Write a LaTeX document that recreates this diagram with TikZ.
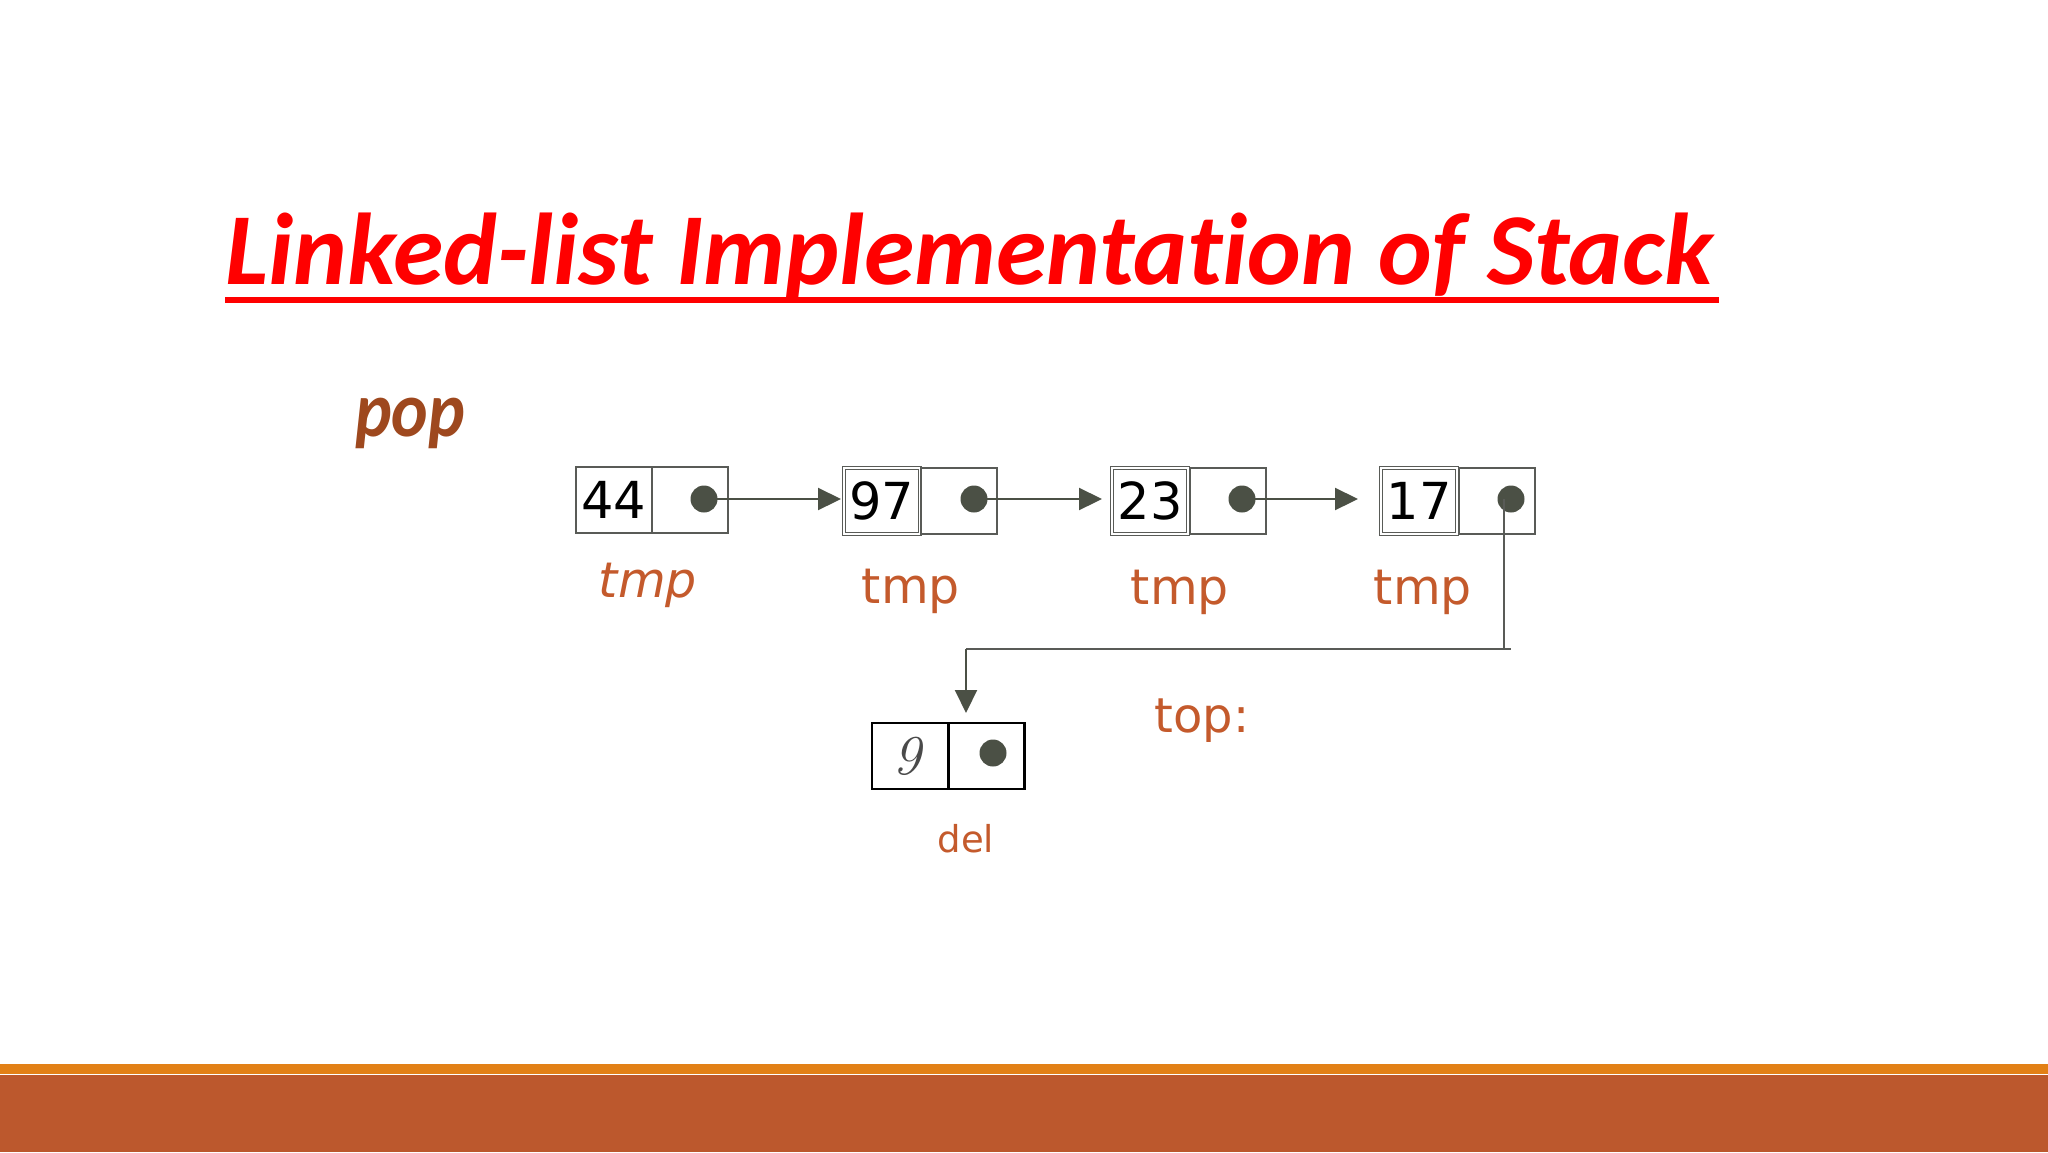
\documentclass[tikz,border=0pt]{standalone}
\usepackage{fontspec}
\usetikzlibrary{arrows.meta}
\newfontfamily\carlito{Carlito}[Ligatures={NoCommon}]
\newfontfamily\dejavu{DejaVu Sans}
\newfontfamily\lmos{Latin Modern Roman}[Numbers=OldStyle]
\definecolor{titlered}{HTML}{FF0000}
\definecolor{popbrown}{HTML}{9E481E}
\definecolor{labelrust}{HTML}{C45A2C}
\definecolor{barorange}{HTML}{E28016}
\definecolor{barrust}{HTML}{BC582D}
\definecolor{boxgray}{HTML}{595B57}
\definecolor{dotgray}{HTML}{4B5045}
\definecolor{ninegray}{HTML}{4A4A4A}
\tikzset{
  cell/.style={draw=boxgray, line width=2.5pt, minimum width=76pt, minimum height=66pt, inner sep=0pt, outer sep=0pt, font=\dejavu\fontsize{51}{55}\selectfont, text=black},
  cellb/.style={cell, line width=1.3pt, double=white, double distance=1.1pt},
  delcell/.style={cell, draw=black, line width=2.5pt},
  ptrdot/.style={circle, fill=dotgray, minimum size=27pt, inner sep=0pt, outer sep=0pt},
  link/.style={draw=dotgray, line width=2.2pt, -{Triangle[length=23pt,width=22pt]}},
  wire/.style={draw=boxgray, line width=2pt},
  tmplabel/.style={anchor=base, text=labelrust, font=\dejavu\fontsize{49}{55}\selectfont, inner sep=0pt},
}
\begin{document}
\begin{tikzpicture}[x=1pt,y=-1pt]
\useasboundingbox (0,0) rectangle (2048,1152);
\fill[white] (0,0) rectangle (2048,1152);
% bottom bars
\fill[barorange] (0,1064) rectangle (2048,1074);
\fill[barrust] (0,1075) rectangle (2048,1152);
% title
\node[anchor=base west, inner sep=0pt, text=titlered, font=\carlito\bfseries\itshape\fontsize{102}{110}\selectfont] (title) at (225,284) {Linked-list Implementation of Stack};
\draw[titlered, line width=6pt] (225,299.5) -- (1719,299.5);
% pop
\node[anchor=base west, inner sep=0pt, text=popbrown, xscale=0.89, font=\carlito\bfseries\itshape\fontsize{78}{90}\selectfont] (pop) at (355,436) {pop};
% list nodes
\node[cell]  (d1) at (614,500) {44};
\node[cell]  (p1) at (690,500) {};
\node[cellb] (d2) at (882,501) {97};
\node[cell]  (p2) at (959,501) {};
\node[cellb] (d3) at (1150,501) {23};
\node[cell]  (p3) at (1228,501) {};
\node[cellb] (d4) at (1419,501) {17};
\node[cell]  (p4) at (1497,501) {};
\node[ptrdot] (c1) at (704,499) {};
\node[ptrdot] (c2) at (974,499) {};
\node[ptrdot] (c3) at (1242,499) {};
\node[ptrdot] (c4) at (1511,499) {};
% links
\draw[link, shorten >=3pt] (c1.center) -- (c1.center -| d2.west);
\draw[link, shorten >=10pt] (c2.center) -- (c2.center -| d3.west);
\draw[link, shorten >=23pt] (c3.center) -- (c3.center -| d4.west);
% tmp labels
\node[tmplabel, font=\dejavu\itshape\fontsize{49}{55}\selectfont] (t1) at (648,597) {tmp};
\node[tmplabel] (t2) at (911,603) {tmp};
\node[tmplabel] (t3) at (1180,604) {tmp};
\node[tmplabel] (t4) at (1423,604) {tmp};
% deleted node
\node[delcell, text=ninegray, font=\lmos\itshape\fontsize{56}{60}\selectfont] (dd) at (910,756) {\raisebox{-2.5pt}{9}};
\node[delcell] (pd) at (986.5,756) {};
\node[ptrdot] (cd) at (993,753) {};
\coordinate (drop) at (1504,649);
\coordinate (turn) at (966,649);
\draw[wire] ([xshift=-7pt]c4.center) -- (drop) -- ([xshift=7pt]drop);
\draw[wire] (drop) -- (turn);
\draw[link, line width=2pt, shorten >=10pt] (turn) -- (turn |- pd.north);
% labels
\node[tmplabel, font=\dejavu\fontsize{48}{55}\selectfont] (top) at (1202,732) {top:};
\node[tmplabel, font=\dejavu\fontsize{37}{45}\selectfont] (del) at (966,852) {del};
\end{tikzpicture}
\end{document}
